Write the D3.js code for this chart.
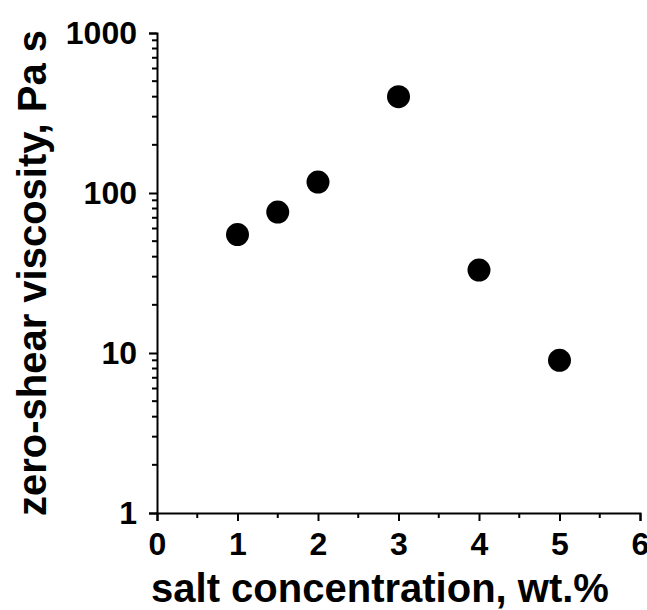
<!DOCTYPE html>
<html>
<head>
<meta charset="utf-8">
<script src="https://cdn.jsdelivr.net/npm/d3@7.9.0/dist/d3.min.js"></script>
<style>
  body { margin: 0; background: #fff; }
  svg { display: block; }
  text { font-family: Arial, "Liberation Sans", sans-serif; font-weight: bold; fill: #000; }
</style>
</head>
<body>
<svg id="chart" width="647" height="610"></svg>
<script>
// salt concentration (wt.%) vs zero-shear viscosity (Pa s)
const saltConc = [1, 1.5, 2, 3, 4, 5];
const viscosity = [55, 76, 117, 400, 33, 9];
const xTicks = [0, 1, 2, 3, 4, 5, 6];
const yTicks = [1, 10, 100, 1000];

const svg = d3.select('#chart');
const plotLeft = 157, plotRight = 640, plotTop = 33, plotBottom = 513;

let x = d3.scaleLinear().domain([0, 6]).range([plotLeft, plotRight]);
let y = d3.scaleLog().domain([1, 1000]).range([plotBottom, plotTop]);

// minor ticks
let xMinor = d3.range(0.5, 6, 1);
let yMinor = [];
[1, 10, 100].forEach((d) => {
  for (let k = 2; k <= 9; k++) yMinor.push(d * k);
});

let gx = svg.append('g').attr('transform', `translate(0,${plotBottom})`);
gx.call(d3.axisBottom(x).tickValues(xTicks).tickFormat(d3.format('d')).tickSizeOuter(0).tickSize(8).tickPadding(11));
gx.selectAll('line.minor')
  .data(xMinor)
  .join('line')
  .attr('class', 'minor')
  .attr('x1', (d) => x(d)).attr('x2', (d) => x(d))
  .attr('y1', 0).attr('y2', 5)
  .attr('stroke', '#000').attr('stroke-width', 2);

let gy = svg.append('g').attr('transform', `translate(${plotLeft},0)`);
gy.call(d3.axisLeft(y).tickValues(yTicks).tickFormat(d3.format('d')).tickSizeOuter(0).tickSize(8).tickPadding(12));
gy.selectAll('line.minor')
  .data(yMinor)
  .join('line')
  .attr('class', 'minor')
  .attr('y1', (d) => y(d)).attr('y2', (d) => y(d))
  .attr('x1', 0).attr('x2', -5)
  .attr('stroke', '#000').attr('stroke-width', 2);

[gx, gy].forEach((g) => {
  g.select('.domain').attr('stroke', '#000').attr('stroke-width', 2);
  g.selectAll('.tick line').attr('stroke', '#000').attr('stroke-width', 2);
  g.selectAll('.tick text').attr('font-size', 32).attr('fill', '#000');
});

svg.append('g')
  .selectAll('circle')
  .data(saltConc)
  .join('circle')
  .attr('cx', (d) => x(d))
  .attr('cy', (d, i) => y(viscosity[i]))
  .attr('r', 11.5)
  .attr('fill', '#000');

svg.append('text')
  .attr('x', 380)
  .attr('y', 602)
  .attr('text-anchor', 'middle')
  .attr('font-size', 40)
  .text('salt concentration, wt.%');

svg.append('text')
  .attr('transform', `translate(46,${(plotTop + plotBottom) / 2}) rotate(-90)`)
  .attr('text-anchor', 'middle')
  .attr('font-size', 40)
  .text('zero-shear viscosity, Pa s');
</script>
</body>
</html>
